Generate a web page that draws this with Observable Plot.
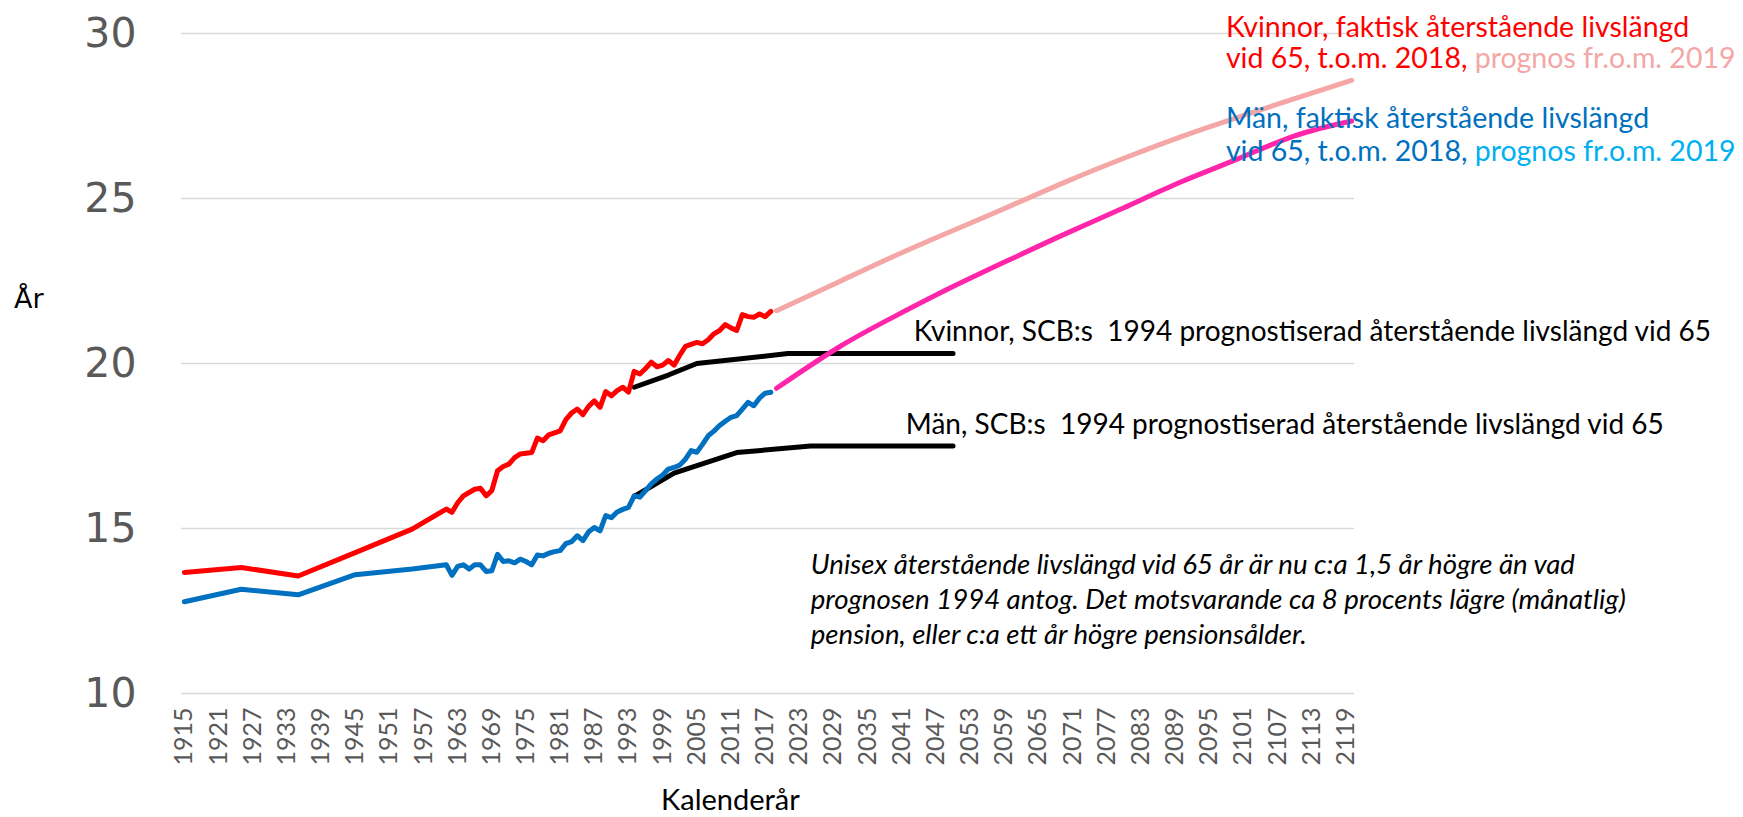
<!DOCTYPE html>
<html>
<head>
<meta charset="utf-8">
<script src="https://cdn.jsdelivr.net/npm/d3@7"></script>
<script src="https://cdn.jsdelivr.net/npm/@observablehq/plot@0.6"></script>
<style>
  html, body { margin: 0; padding: 0; background: #fff; }
  #chart svg { display: block; }
</style>
</head>
<body>
<div id="chart"></div>
<script>
// ---- Data ----
const actualYears = [1915, 1925, 1935, 1945, 1955,
  1961, 1962, 1963, 1964, 1965, 1966, 1967, 1968, 1969, 1970,
  1971, 1972, 1973, 1974, 1975, 1976, 1977, 1978, 1979, 1980,
  1981, 1982, 1983, 1984, 1985, 1986, 1987, 1988, 1989, 1990,
  1991, 1992, 1993, 1994, 1995, 1996, 1997, 1998, 1999, 2000,
  2001, 2002, 2003, 2004, 2005, 2006, 2007, 2008, 2009, 2010,
  2011, 2012, 2013, 2014, 2015, 2016, 2017, 2018];

const kvinnorFaktisk = [13.67, 13.82, 13.56, 14.27, 14.98,
  15.59, 15.49, 15.78, 15.99, 16.09, 16.19, 16.22, 15.99, 16.15, 16.75,
  16.88, 16.95, 17.15, 17.26, 17.28, 17.30, 17.74, 17.66, 17.84, 17.90,
  17.96, 18.30, 18.50, 18.62, 18.45, 18.70, 18.87, 18.67, 19.15, 19.02,
  19.18, 19.28, 19.13, 19.76, 19.68, 19.85, 20.04, 19.90, 19.95, 20.09,
  19.95, 20.25, 20.52, 20.58, 20.64, 20.60, 20.72, 20.90, 21.00, 21.18,
  21.08, 21.00, 21.48, 21.42, 21.40, 21.50, 21.42, 21.58];

const manFaktisk = [12.78, 13.16, 12.99, 13.60, 13.77,
  13.90, 13.58, 13.85, 13.90, 13.77, 13.90, 13.90, 13.70, 13.72, 14.22,
  14.00, 14.02, 13.96, 14.07, 14.00, 13.90, 14.20, 14.17, 14.25, 14.30,
  14.33, 14.54, 14.60, 14.78, 14.63, 14.90, 15.03, 14.93, 15.39, 15.33,
  15.50, 15.58, 15.64, 15.99, 15.95, 16.15, 16.35, 16.50, 16.62, 16.80,
  16.85, 16.92, 17.10, 17.36, 17.31, 17.55, 17.81, 17.95, 18.12, 18.25,
  18.37, 18.42, 18.62, 18.82, 18.72, 18.95, 19.10, 19.13];

const prognosYears = [2019, 2030, 2040, 2050, 2060, 2070, 2080, 2090, 2100, 2110, 2120];
const kvinnorPrognos = [21.60, 22.48, 23.28, 24.03, 24.77, 25.52, 26.22, 26.87, 27.46, 28.03, 28.58];
const manPrognos     = [19.25, 20.50, 21.45, 22.33, 23.15, 23.95, 24.72, 25.50, 26.20, 26.90, 27.35];

const scbKvinnorYears = [1994, 2000, 2005, 2021, 2050];
const scbKvinnor      = [19.28, 19.65, 20.00, 20.30, 20.30];
const scbManYears     = [1994, 2001, 2012, 2025, 2050];
const scbMan          = [15.97, 16.68, 17.30, 17.50, 17.50];

const xTickYears = [1915, 1921, 1927, 1933, 1939, 1945, 1951, 1957, 1963, 1969, 1975,
  1981, 1987, 1993, 1999, 2005, 2011, 2017, 2023, 2029, 2035, 2041, 2047, 2053,
  2059, 2065, 2071, 2077, 2083, 2089, 2095, 2101, 2107, 2113, 2119];
const yTicks = [10, 15, 20, 25, 30];

// ---- Colours ----
const RED = "#ff0000", PINK = "#f4a7a6", BLUE = "#0070c0", CYAN = "#00b0f0", MAGENTA = "#ff26a9", BLACK = "#000000";

const toRows = (xs, ys) => xs.map((x, i) => ({x, y: ys[i]}));

const lineOpts = {x: "x", y: "y", strokeWidth: 5, strokeLinecap: "round", strokeLinejoin: "round"};

const chart = Plot.plot({
  width: 1743,
  height: 817,
  marginLeft: 181,
  marginRight: 389,
  marginTop: 33,
  marginBottom: 124,
  x: {domain: [1914.5, 2120.5]},
  y: {domain: [10, 30]},
  marks: [
    Plot.gridY(yTicks, {stroke: "#d9d9d9", strokeOpacity: 1, strokeWidth: 1.5}),
    Plot.axisY(yTicks, {tickSize: 0, tickPadding: 45, label: null, fontSize: 41}),
    Plot.axisX(xTickYears, {tickSize: 0, tickPadding: 14, tickRotate: -90, label: null, tickFormat: d => String(d), fontSize: 25}),
    Plot.line(toRows(scbKvinnorYears, scbKvinnor), {...lineOpts, stroke: BLACK}),
    Plot.line(toRows(scbManYears, scbMan), {...lineOpts, stroke: BLACK}),
    Plot.line(toRows(prognosYears, kvinnorPrognos), {...lineOpts, stroke: PINK, curve: "natural"}),
    Plot.line(toRows(prognosYears, manPrognos), {...lineOpts, stroke: MAGENTA, curve: "natural"}),
    Plot.line(toRows(actualYears, kvinnorFaktisk), {...lineOpts, stroke: RED}),
    Plot.line(toRows(actualYears, manFaktisk), {...lineOpts, stroke: BLUE})
  ]
});

document.getElementById("chart").appendChild(chart);

const svg = d3.select(chart);
const xs = chart.scale("x"), ys = chart.scale("y");

svg.selectAll("g[aria-label='y-axis tick label']").attr("fill", "#595959").attr("font-family", "'DejaVu Sans', sans-serif");
svg.selectAll("g[aria-label='y-axis tick label'] text").attr("fill", "#595959").attr("font-size", 41);
svg.selectAll("g[aria-label='x-axis tick label']").attr("fill", "#595959").attr("font-family", "Lato, sans-serif").attr("font-size", 25);
svg.selectAll("g[aria-label='x-axis tick label'] text").attr("fill", "#595959").attr("font-size", 25);

// ---- Annotations (anchored in data space) ----
const annotations = [
  {x: 2098, y: 30.19, size: 28.5, parts: [["Kvinnor, faktisk återstående livslängd", RED]]},
  {x: 2098, y: 29.24, size: 28.5, parts: [["vid 65, t.o.m. 2018,", RED], [" prognos fr.o.m. 2019", PINK]]},
  {x: 2098, y: 27.42, size: 28.5, parts: [["Män, faktisk återstående livslängd", BLUE]]},
  {x: 2098, y: 26.41, size: 28.5, parts: [["vid 65, t.o.m. 2018,", BLUE], [" prognos fr.o.m. 2019", CYAN]]},
  {x: 2043.2, y: 20.96, size: 28, parts: [["Kvinnor, SCB:s\u00a0 1994 prognostiserad återstående livslängd vid 65", BLACK]]},
  {x: 2041.8, y: 18.15, size: 28, parts: [["Män, SCB:s\u00a0 1994 prognostiserad återstående livslängd vid 65", BLACK]]},
  {x: 2025.1, y: 13.91, size: 27.6, italic: true, parts: [["Unisex återstående livslängd vid 65 år är nu c:a 1,5 år högre än vad", BLACK]]},
  {x: 2025.1, y: 12.83, size: 27.6, italic: true, parts: [["prognosen 1994 antog. Det motsvarande ca 8 procents lägre (månatlig)", BLACK]]},
  {x: 2025.1, y: 11.79, size: 27.6, italic: true, parts: [["pension, eller c:a ett år högre pensionsålder.", BLACK]]}
];

const ann = svg.append("g").attr("font-family", "Lato, sans-serif").attr("text-anchor", "start");
for (const a of annotations) {
  const t = ann.append("text")
    .attr("x", xs.apply(a.x))
    .attr("y", ys.apply(a.y))
    .attr("dy", "0.35em")
    .attr("font-size", a.size)
    .attr("text-anchor", "start")
    .attr("font-style", a.italic ? "italic" : null)
    .attr("xml:space", "preserve");
  for (const [s, c] of a.parts) t.append("tspan").attr("fill", c).text(s);
}

// Axis titles
svg.append("text")
  .attr("x", 14).attr("y", 308)
  .attr("text-anchor", "start")
  .attr("font-family", "'DejaVu Sans', sans-serif").attr("font-size", 27).attr("fill", "#000")
  .text("År");
svg.append("text")
  .attr("x", xs.apply(2011)).attr("y", 800).attr("dy", "0.35em")
  .attr("text-anchor", "middle")
  .attr("font-family", "Lato, sans-serif").attr("font-size", 29).attr("fill", "#000")
  .text("Kalenderår");
</script>
</body>
</html>
